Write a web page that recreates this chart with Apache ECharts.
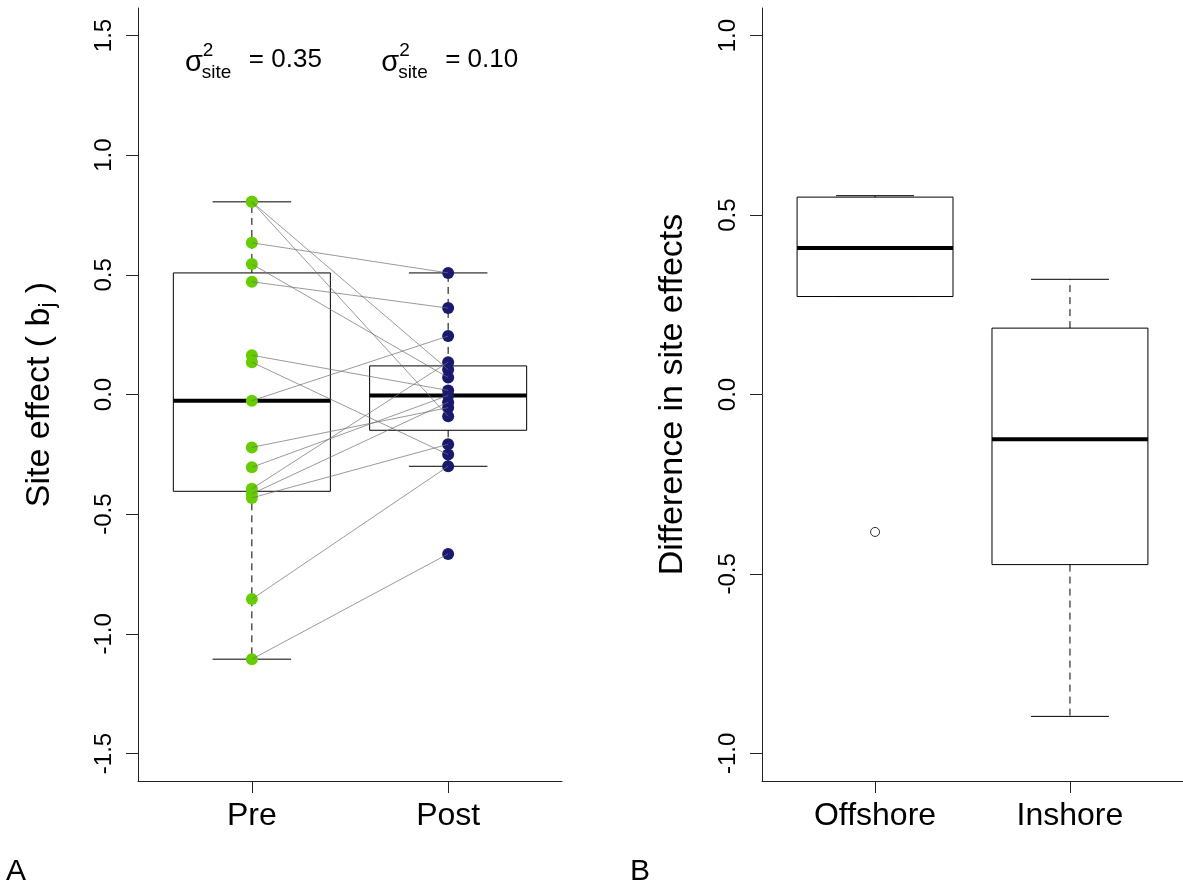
<!DOCTYPE html>
<html>
<head>
<meta charset="utf-8">
<script src="https://cdn.jsdelivr.net/npm/echarts@6/dist/echarts.min.js"></script>
<style>
  html, body { margin: 0; padding: 0; background: #fff; }
  #chart { width: 1183px; height: 892px; }
</style>
</head>
<body>
<div id="chart"></div>
<script>
// Panel A: site effects before and after, paired by site (same index)
const groups = ['Pre', 'Post'];
const preEffect = [0.805, 0.805, 0.634, 0.545, 0.471, 0.164, 0.135, -0.026, -0.221, -0.304, -0.394, -0.415, -0.432, -0.855, -1.106];
const postEffect = [0.104, -0.091, 0.508, 0.071, 0.361, 0.017, -0.251, 0.244, -0.055, -0.004, 0.135, -0.032, -0.208, -0.300, -0.666];
const siteVariance = ['0.35', '0.10'];
const ticksA = [-1.5, -1.0, -0.5, 0.0, 0.5, 1.0, 1.5];

// Panel B: difference in site effects by region, as box statistics
const regions = ['Offshore', 'Inshore'];
// [lower whisker, lower hinge, median, upper hinge, upper whisker]
const offshoreStats = [0.273, 0.273, 0.408, 0.550, 0.554];
const inshoreStats = [-0.897, -0.474, -0.125, 0.185, 0.321];
const offshoreOutliers = [-0.383];
const ticksB = [-1.0, -0.5, 0.0, 0.5, 1.0];

const FONT = '"Liberation Sans", Arial, Helvetica, sans-serif';

// Tukey five-number summary plus whisker ends (1.5 IQR rule)
function boxStats(values) {
  const x = values.slice().sort((a, b) => a - b);
  const n = x.length;
  const n4 = Math.floor((n + 3) / 2) / 2;
  const at = d => 0.5 * (x[Math.floor(d) - 1] + x[Math.ceil(d) - 1]);
  const q1 = at(n4), med = at((n + 1) / 2), q3 = at(n + 1 - n4);
  const iqr = q3 - q1;
  const lo = Math.min(...x.filter(v => v >= q1 - 1.5 * iqr));
  const hi = Math.max(...x.filter(v => v <= q3 + 1.5 * iqr));
  return [lo, q1, med, q3, hi];
}

// Box with dashed whiskers, end caps and a heavy median bar
function renderBox(params, api) {
  const x = api.value(0);
  const lo = api.value(1), q1 = api.value(2), med = api.value(3), q3 = api.value(4), hi = api.value(5);
  const hw = 0.4, cw = 0.2;
  const tl = api.coord([x - hw, q3]);
  const br = api.coord([x + hw, q1]);
  const seg = (a, b, style) => {
    const p = api.coord(a), q = api.coord(b);
    return { type: 'line', shape: { x1: p[0], y1: p[1], x2: q[0], y2: q[1] }, style: style };
  };
  const solid = { stroke: '#000', lineWidth: 1 };
  const dashed = { stroke: '#000', lineWidth: 1, lineDash: [7, 5] };
  return {
    type: 'group',
    children: [
      seg([x, q3], [x, hi], dashed),
      seg([x, q1], [x, lo], dashed),
      seg([x - cw, hi], [x + cw, hi], solid),
      seg([x - cw, lo], [x + cw, lo], solid),
      { type: 'rect', shape: { x: tl[0], y: tl[1], width: br[0] - tl[0], height: br[1] - tl[1] },
        style: { fill: 'none', stroke: '#000', lineWidth: 1 } },
      seg([x - hw, med], [x + hw, med], { stroke: '#000', lineWidth: 4 })
    ]
  };
}

// Paired segment from a site's Pre value to its Post value
function renderPair(params, api) {
  const p = api.coord([1, api.value(0)]);
  const q = api.coord([2, api.value(1)]);
  return { type: 'line', shape: { x1: p[0], y1: p[1], x2: q[0], y2: q[1] },
           style: { stroke: '#6e6e6e', lineWidth: 0.7 } };
}

// sigma^2_site = value, placed above each group
function renderSigma(params, api) {
  const c = api.coord([api.value(0), api.value(1)]);
  const label = siteVariance[params.dataIndex];
  const t = (text, dx, dy, size, align) => ({
    type: 'text', x: c[0] + dx, y: c[1] + dy,
    style: { text: text, font: size + 'px ' + FONT, fill: '#000', align: align, verticalAlign: 'middle' }
  });
  return {
    type: 'group',
    children: [
      t('σ', -49, 4, 29, 'right'),
      t('2', -49, -9, 19, 'left'),
      t('site', -50, 13, 19, 'left'),
      t('= ' + label, -3, 0, 26, 'left')
    ]
  };
}

const pre = boxStats(preEffect);
const post = boxStats(postEffect);

const axisLineStyle = { color: '#222', width: 1 };

function makeX(gridIndex, names) {
  return {
    type: 'value', gridIndex: gridIndex, min: 0.42, max: 2.58,
    axisLine: { show: true, onZero: false, lineStyle: axisLineStyle },
    axisTick: { show: true, length: 12, customValues: [1, 2], lineStyle: axisLineStyle },
    axisLabel: { customValues: [1, 2], formatter: v => names[Math.round(v) - 1],
                 color: '#000', fontSize: 32, fontFamily: FONT, margin: 19 },
    splitLine: { show: false }
  };
}

function makeY(gridIndex, lim, ticks, name, gap) {
  return {
    type: 'value', gridIndex: gridIndex, min: -lim, max: lim,
    name: name, nameLocation: 'middle', nameGap: gap, nameRotate: 90,
    nameTextStyle: {
      color: '#000', fontFamily: FONT, fontSize: 34,
      rich: {
        t: { fontSize: 34, fontFamily: FONT, color: '#000' },
        s: { fontSize: 22, fontFamily: FONT, color: '#000', verticalAlign: 'top', padding: [16, 0, 0, 0] }
      }
    },
    axisLine: { show: true, onZero: false, lineStyle: axisLineStyle },
    axisTick: { show: true, length: 12, customValues: ticks, lineStyle: axisLineStyle },
    axisLabel: { customValues: ticks, rotate: 90, formatter: v => v.toFixed(1),
                 color: '#000', fontSize: 24, fontFamily: FONT, margin: 22 },
    splitLine: { show: false }
  };
}

const option = {
  animation: false,
  backgroundColor: '#fff',
  grid: [
    { left: 138, top: 8, width: 424, height: 773 },
    { left: 762, top: 8, width: 424, height: 773 }
  ],
  xAxis: [makeX(0, groups), makeX(1, regions)],
  yAxis: [
    makeY(0, 1.615, ticksA, '{t|Site effect ( b}{s|j}{t| )}', 79),
    makeY(1, 1.077, ticksB, 'Difference in site effects', 72)
  ],
  graphic: [
    { type: 'text', left: 6, top: 857, style: { text: 'A', font: '30px ' + FONT, fill: '#000' } },
    { type: 'text', left: 630, top: 857, style: { text: 'B', font: '30px ' + FONT, fill: '#000' } }
  ],
  series: [
    { type: 'custom', xAxisIndex: 0, yAxisIndex: 0, renderItem: renderBox, z: 1,
      data: [[1].concat(pre), [2].concat(post)] },
    { type: 'scatter', xAxisIndex: 0, yAxisIndex: 0, symbolSize: 12, z: 2,
      itemStyle: { color: '#66CD00', opacity: 1 },
      data: preEffect.map(v => [1, v]) },
    { type: 'scatter', xAxisIndex: 0, yAxisIndex: 0, symbolSize: 12, z: 2,
      itemStyle: { color: '#191970', opacity: 1 },
      data: postEffect.map(v => [2, v]) },
    { type: 'custom', xAxisIndex: 0, yAxisIndex: 0, renderItem: renderPair, z: 3,
      data: preEffect.map((v, i) => [v, postEffect[i]]) },
    { type: 'custom', xAxisIndex: 0, yAxisIndex: 0, renderItem: renderSigma, z: 4,
      data: [[1, 1.4], [2, 1.4]] },
    { type: 'custom', xAxisIndex: 1, yAxisIndex: 1, renderItem: renderBox, z: 1,
      data: [[1].concat(offshoreStats), [2].concat(inshoreStats)] },
    { type: 'scatter', xAxisIndex: 1, yAxisIndex: 1, symbol: 'circle', symbolSize: 9, z: 2,
      itemStyle: { color: 'rgba(0,0,0,0)', borderColor: '#000', borderWidth: 1 },
      data: offshoreOutliers.map(v => [1, v]) }
  ]
};

const chart = echarts.init(document.getElementById('chart'), null, { renderer: 'canvas' });
chart.setOption(option);
</script>
</body>
</html>
